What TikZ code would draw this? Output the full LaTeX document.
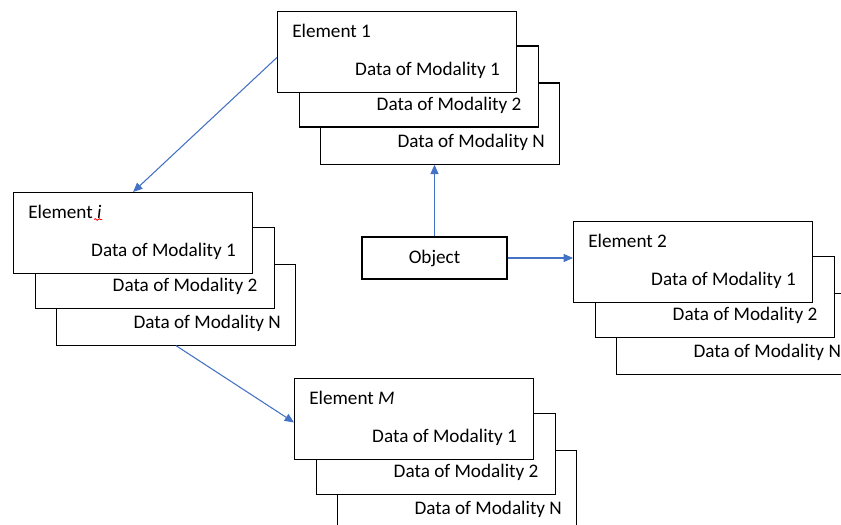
\documentclass[tikz,border=0pt]{standalone}
\usepackage{fontspec}
\setmainfont{Carlito}
\usetikzlibrary{calc,arrows.meta,decorations.pathmorphing}
\definecolor{arrblue}{HTML}{4472C4}
\tikzset{
  box/.style={draw=black, line width=0.9pt, fill=white, minimum width=179.25pt, minimum height=60.75pt, inner sep=0pt, anchor=north west},
  lbl/.style={inner sep=0pt, font=\fontsize{14.4}{17}\selectfont},
  arr/.style={draw=arrblue, line width=0.8pt, -{Triangle[length=7pt,width=6pt]}},
}
\newcommand\elemgroup[4]{%
  \node[box] (#1c) at ($(#2,#3)+(43,71.5)$) {};
  \node[box] (#1b) at ($(#2,#3)+(21.5,34.5)$) {};
  \node[box] (#1a) at (#2,#3) {};
  \node[lbl, anchor=west] (#1t) at ($(#1a.north west)+(15,19.5)$) {#4};
  \node[lbl, anchor=east] (#1d1) at ($(#1a.north east)+(-17,59)$) {Data of Modality 1};
  \node[lbl, anchor=east] (#1d2) at ($(#1b.north east)+(-17,60)$) {Data of Modality 2};
  \node[lbl, anchor=east] (#1d3) at ($(#1c.north east)+(-15,60)$) {Data of Modality N};
}
\begin{document}
\begin{tikzpicture}[x=0.75pt, y=-0.75pt]
\useasboundingbox (0,0) rectangle (841,524);
\clip (0,0) rectangle (841,524);
\fill[white] (0,0) rectangle (841,524);
\elemgroup{e1}{277}{11}{Element 1}
\elemgroup{ei}{13}{192}{Element \textit{i}}
\elemgroup{e2}{573}{221}{Element 2}
\elemgroup{em}{294}{378}{Element \textit{M}}
\draw[red, line width=0.6pt, decorate, decoration={snake, amplitude=0.6pt, segment length=3pt}] (94,219.5) -- (102,219.5);
\node[draw=black, line width=0.9pt, fill=white, minimum width=108.75pt, minimum height=31.5pt, inner sep=0pt, font=\fontsize{14.4}{17}\selectfont] (obj) at (434.5,258) {Object};
\draw[arr] ([yshift=-4pt]e1a.west) -- (eia.north);
\draw[arr] (eic.south) -- ([yshift=-2.5pt]ema.west);
\draw[arr] (obj.north) -- (obj.north |- e1c.south);
\draw[arr] (obj.east) -- (obj.east -| e2a.west);
\end{tikzpicture}
\end{document}
